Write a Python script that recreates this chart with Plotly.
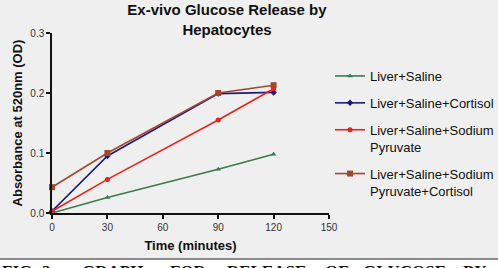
import plotly.graph_objects as go

time_min = [0, 30, 90, 120]
liver_saline = [0.000, 0.026, 0.073, 0.098]
liver_saline_cortisol = [0.003, 0.095, 0.199, 0.201]
liver_saline_pyruvate = [0.003, 0.056, 0.155, 0.207]
liver_saline_pyruvate_cortisol = [0.043, 0.100, 0.200, 0.213]

series_names = [
    "Liver+Saline",
    "Liver+Saline+Cortisol",
    "Liver+Saline+Sodium<br>Pyruvate",
    "Liver+Saline+Sodium<br>Pyruvate+Cortisol",
]
series_values = [liver_saline, liver_saline_cortisol, liver_saline_pyruvate, liver_saline_pyruvate_cortisol]
colors = ["#3d7a4e", "#1c1c7e", "#e8231c", "#a2472c"]
symbols = ["triangle-up", "diamond", "circle", "square"]
sizes = [5, 5, 5, 6]

caption_words = ["FIG.", "2:", "GRAPH", "FOR", "RELEASE", "OF", "GLUCOSE", "BY"]
caption_x_px = [0, 40, 80, 168, 225, 323, 361, 461]

W, H = 498, 268
L, R, T, B = 52, 169, 33, 55
pw, ph = W - L - R, H - T - B

fig = go.Figure()
for i, (name, vals) in enumerate(zip(series_names, series_values)):
    fig.add_trace(go.Scatter(
        x=time_min, y=vals, name=name, mode="lines+markers",
        line=dict(color=colors[i], width=1.6),
        marker=dict(symbol=symbols[i], size=sizes[i], color=colors[i]),
        cliponaxis=False, legendgroup=str(i),
    ))

# caption area (white, separated by a dark rule)
cap_top = (T + ph - 259) / ph
fig.add_shape(type="rect", xref="paper", yref="paper", x0=-1, x1=2,
              y0=cap_top - 0.5, y1=cap_top, fillcolor="white", line_width=0, layer="below")
fig.add_shape(type="line", xref="paper", yref="paper", x0=-1, x1=2,
              y0=cap_top, y1=cap_top, line=dict(color="#222222", width=1.2))
for w, xp in zip(caption_words, caption_x_px):
    fig.add_annotation(text="<b>%s</b>" % w, xref="paper", yref="paper",
                       x=(xp - L) / pw, y=(T + ph - 259.5) / ph, xanchor="left", yanchor="top",
                       showarrow=False, font=dict(family="Liberation Serif", size=17, color="#111111"))

fig.update_layout(
    width=W, height=H,
    margin=dict(l=L, r=R, t=T, b=B, autoexpand=False),
    paper_bgcolor="#efefef", plot_bgcolor="#efefef",
    title=dict(text="<b>Ex-vivo Glucose Release by<br>Hepatocytes</b>",
               x=227 / W, xanchor="center", y=1 - 15 / H, yanchor="top",
               font=dict(family="Liberation Sans", size=15, color="#111111")),
    font=dict(family="Liberation Sans", color="#222222"),
    legend=dict(x=(330 - L) / pw, y=(T + ph - 61) / ph, xanchor="left", yanchor="top",
                font=dict(size=13, color="#111111"), bgcolor="rgba(0,0,0,0)",
                itemwidth=30, tracegroupgap=7, valign="top"),
    xaxis=dict(range=[0, 150], tickvals=[0, 30, 60, 90, 120, 150], showgrid=False, zeroline=False,
               showline=True, linecolor="#111111", linewidth=1.5, ticks="outside", ticklen=4,
               tickcolor="#111111", tickwidth=1.5, tickfont=dict(size=10, color="#333333"),
               title=dict(text="<b>Time (minutes)</b>", font=dict(size=13, color="#111111"), standoff=9)),
    yaxis=dict(range=[0, 0.3], tickvals=[0, 0.1, 0.2, 0.3], tickformat=".1f", showgrid=False, zeroline=False,
               showline=True, linecolor="#111111", linewidth=1.5, ticks="outside", ticklen=4,
               tickcolor="#111111", tickwidth=1.5, tickfont=dict(size=10, color="#333333"),
               title=dict(text="<b>Absorbance at 520nm (OD)</b>", font=dict(size=13, color="#111111"), standoff=5)),
)

fig.write_html("out.html")
